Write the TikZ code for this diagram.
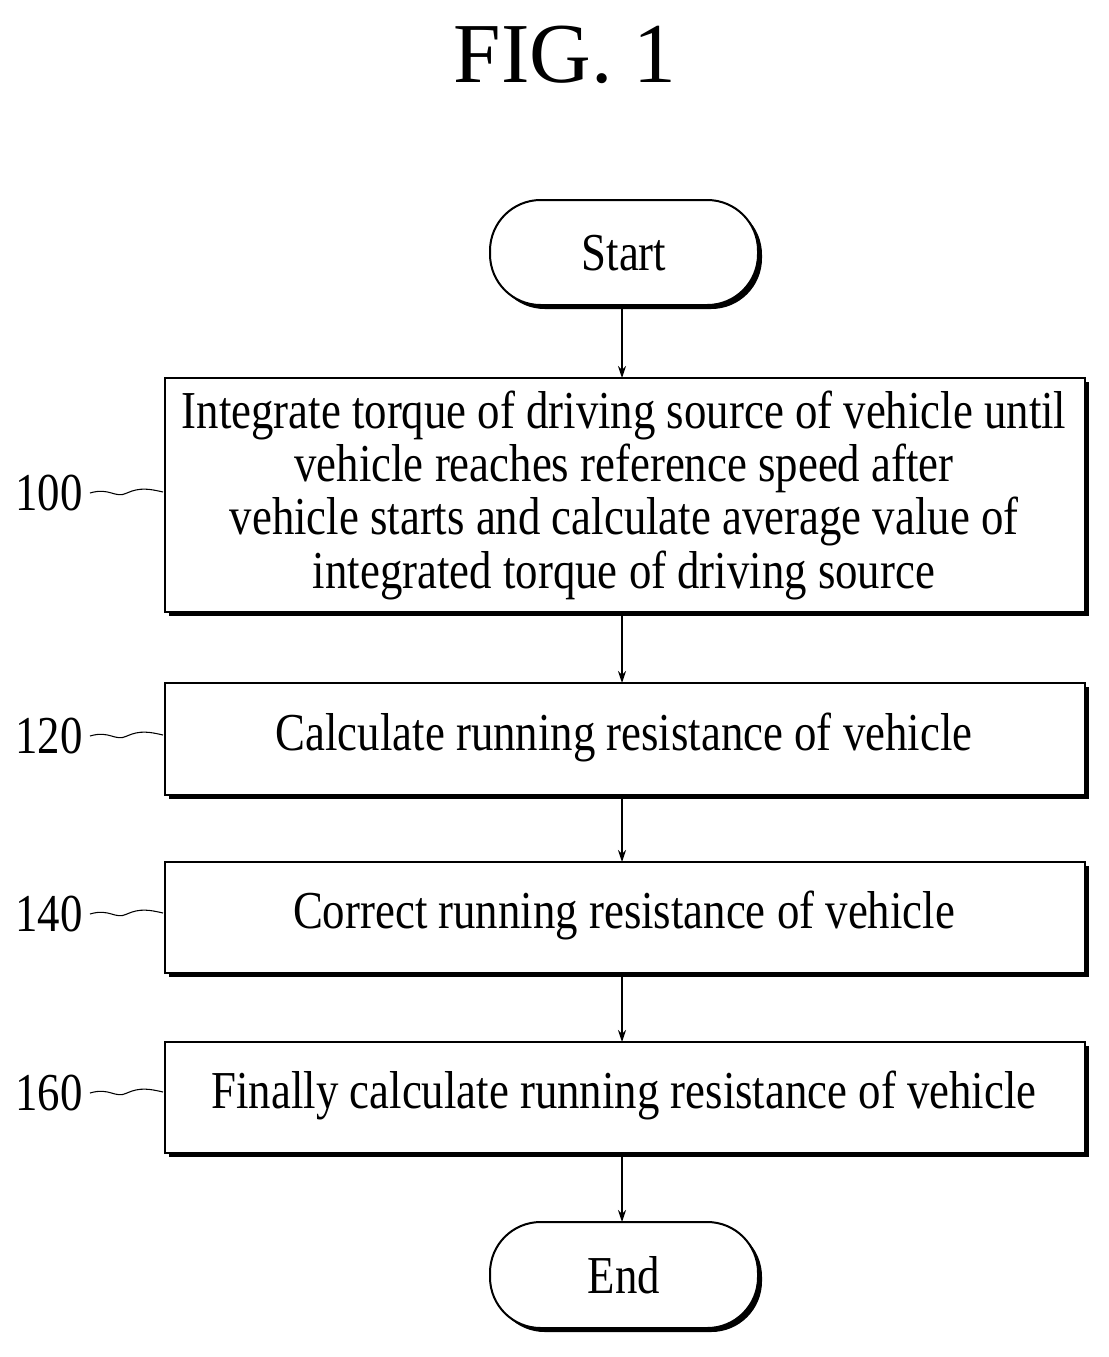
\documentclass[tikz,border=0pt]{standalone}
\usepackage{fontspec}
\usetikzlibrary{arrows.meta}
\setmainfont{Liberation Serif}
\newfontfamily\cond[FakeStretch=0.84]{Liberation Serif}
\begin{document}
\begin{tikzpicture}[x=0.75pt,y=-0.75pt,
  txt/.style={font=\cond\fontsize{40}{40}\selectfont,align=center},
  arr/.style={-{Stealth[length=9pt,width=6pt]},line width=1pt}]
\useasboundingbox (0,0) rectangle (1108,1357);
\node[font=\fontsize{64}{70}\selectfont] (title) at (565,55) {FIG. 1};
\foreach \a/\b in {200/305,1222/1328}{\fill[rounded corners=38pt] (494,\a+4) rectangle (762,\b+4);}
\foreach \a/\b in {378/612,683/795,862/973,1042/1153}{\fill (169,\a+4) rectangle (1089,\b+4);}
\draw[line width=1.5pt,fill=white,rounded corners=38pt] (490,200) rectangle (758,305);
\node[txt] (start) at (624,253) {Start};
\coordinate (st) at (622,305);
\draw[line width=1.5pt,fill=white] (165,378) rectangle (1085,612);
\node[txt] (b100) at (624,495) {Integrate torque of driving source of vehicle until\\vehicle reaches reference speed after\\vehicle starts and calculate average value of\\integrated torque of driving source};
\draw[line width=1.5pt,fill=white] (165,683) rectangle (1085,795);
\node[txt] (b120) at (624,737) {Calculate running resistance of vehicle};
\draw[line width=1.5pt,fill=white] (165,862) rectangle (1085,973);
\node[txt] (b140) at (624,915) {Correct running resistance of vehicle};
\draw[line width=1.5pt,fill=white] (165,1042) rectangle (1085,1153);
\node[txt] (b160) at (624,1095) {Finally calculate running resistance of vehicle};
\draw[line width=1.5pt,fill=white,rounded corners=38pt] (490,1222) rectangle (758,1328);
\node[txt] (end) at (624,1275) {End};
\coordinate (t1) at (622,378); \coordinate (s1) at (622,612);
\coordinate (t2) at (622,683); \coordinate (s2) at (622,795);
\coordinate (t3) at (622,862); \coordinate (s3) at (622,973);
\coordinate (t4) at (622,1042); \coordinate (s4) at (622,1153);
\coordinate (t5) at (622,1222);
\draw[arr] (st) -- (t1);
\draw[arr] (s1) -- (t2);
\draw[arr] (s2) -- (t3);
\draw[arr] (s3) -- (t4);
\draw[arr] (s4) -- (t5);
\foreach \n/\y in {100/493,120/736,140/914,160/1093}{
  \node[txt] (l\n) at (49,\y) {\n};
  \draw[line width=0.8pt] (90,\y) .. controls (110,\y-6) and (115,\y+6) .. (127,\y) .. controls (140,\y-6) and (150,\y-4) .. (163,\y-1);
}
\end{tikzpicture}
\end{document}
